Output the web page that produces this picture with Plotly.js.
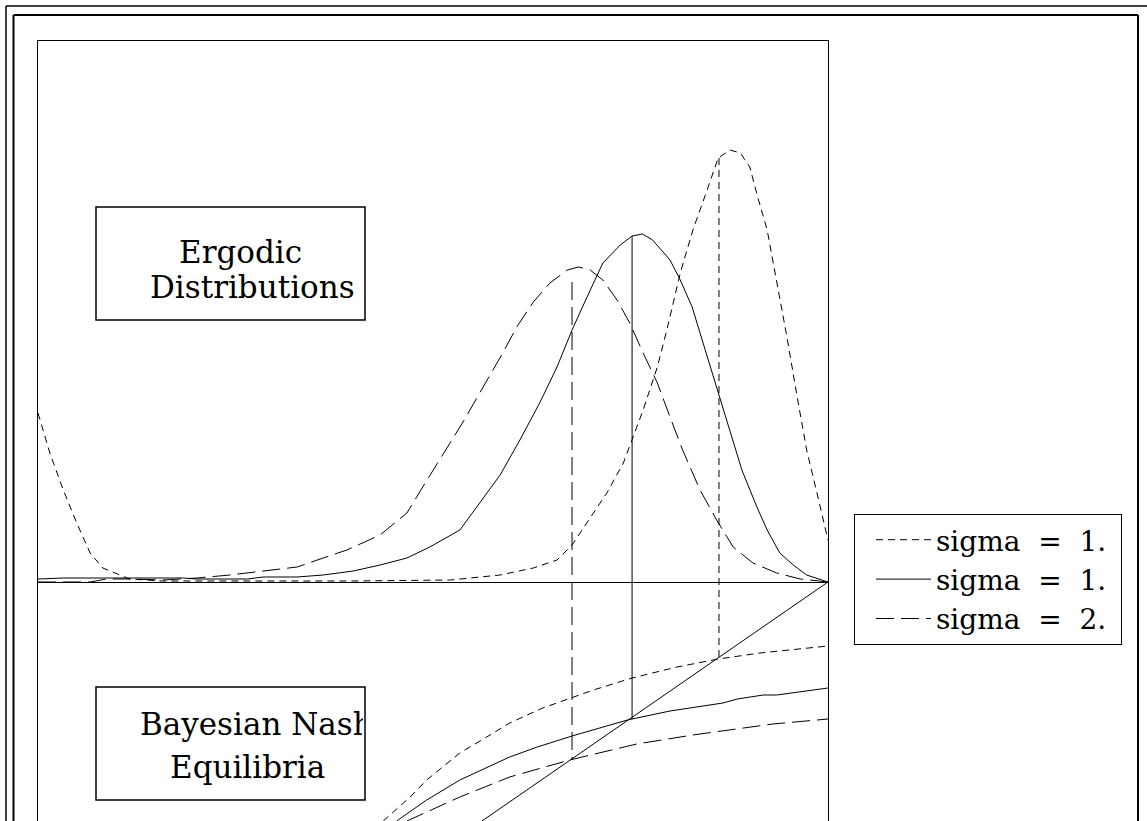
<!DOCTYPE html>
<html>
<head>
<meta charset="utf-8">
<script src="https://cdn.plot.ly/plotly-3.0.1.min.js"></script>
<style>html,body{margin:0;padding:0;background:#fff;}</style>
</head>
<body>
<div id="chart" style="width:1147px;height:821px;"></div>
<script>
// ---- Data ----
const legendNames = ["sigma  =  1.\u00A0", "sigma  =  1.\u00A0", "sigma  =  2.\u00A0"];

// Ergodic distributions (upper part)
const xErgShort = [0,0.015,0.032,0.049,0.066,0.082,0.116,0.158,0.268,0.395,0.522,0.585,0.627,0.657,0.676,0.695,0.720,0.741,0.752,0.766,0.784,0.796,0.813,0.829,0.847,0.861,0.876,0.889,0.901,0.911,0.923,0.935,0.948,0.961,0.973,0.986,1];
const yErgShort = [1.69,1.29,0.92,0.59,0.29,0.14,0.03,0.01,0.01,0.01,0.02,0.07,0.14,0.22,0.37,0.59,0.89,1.19,1.42,1.72,2.15,2.52,3.09,3.52,3.92,4.24,4.32,4.29,4.15,3.85,3.52,3.02,2.45,1.85,1.32,0.89,0.42];

const xErgSolid = [0,0.032,0.184,0.201,0.265,0.285,0.328,0.361,0.399,0.433,0.467,0.496,0.534,0.585,0.610,0.635,0.657,0.676,0.695,0.715,0.737,0.752,0.765,0.778,0.800,0.813,0.828,0.842,0.863,0.876,0.891,0.910,0.923,0.939,0.956,0.973,1];
const yErgSolid = [0.03,0.04,0.04,0.03,0.03,0.05,0.05,0.07,0.11,0.17,0.24,0.35,0.52,1.07,1.42,1.79,2.15,2.52,2.85,3.19,3.37,3.46,3.48,3.42,3.22,3.02,2.75,2.39,1.85,1.52,1.12,0.75,0.52,0.29,0.17,0.07,0];

const xErgLong = [0,0.066,0.087,0.116,0.158,0.201,0.243,0.285,0.328,0.361,0.391,0.433,0.467,0.487,0.538,0.589,0.606,0.627,0.648,0.670,0.684,0.699,0.715,0.733,0.749,0.766,0.784,0.800,0.816,0.838,0.859,0.880,0.905,0.935,0.965,1];
const yErgLong = [0,0,0.03,0.03,0.02,0.04,0.07,0.11,0.15,0.24,0.32,0.47,0.69,0.95,1.60,2.30,2.55,2.80,2.99,3.12,3.15,3.12,3.02,2.82,2.59,2.29,1.99,1.65,1.32,0.92,0.62,0.35,0.19,0.09,0.03,0];

// Bayesian Nash equilibria (lower part)
const xBneShort = [0.437,0.471,0.492,0.534,0.568,0.597,0.639,0.676,0.703,0.752,0.809,0.861,0.914,1];
const yBneShort = [-2.39,-2.15,-1.98,-1.71,-1.55,-1.41,-1.26,-1.16,-1.08,-0.96,-0.85,-0.77,-0.71,-0.64];

const xBneSolid = [0.454,0.492,0.534,0.597,0.632,0.676,0.746,0.800,0.867,0.885,0.918,0.935,1];
const yBneSolid = [-2.39,-2.18,-1.98,-1.75,-1.65,-1.54,-1.38,-1.29,-1.21,-1.17,-1.13,-1.13,-1.06];

const xBneLong = [0.467,0.534,0.597,0.673,0.758,0.829,0.930,1];
const yBneLong = [-2.39,-2.15,-1.95,-1.78,-1.62,-1.53,-1.42,-1.37];

// 45-degree reference line
const xDiag = [0.562, 1];
const yDiag = [-2.39, 0];

// Vertical drop lines (short, solid, long)
const dropX = [0.862, 0.752, 0.676];
const dropTop = [4.24, 3.46, 3.00];
const dropBottom = [-0.77, -1.37, -1.78];

const dashes = ["7px,5px", "solid", "18px,7px"];

// ---- Helpers for layout placement (pixel -> paper) ----
const PL = 38, PR = 828, PT = 41, PB = 821;
const px = v => (v - PL) / (PR - PL);
const py = v => (PB - v) / (PB - PT);

const lineStyle = d => ({color: "black", width: 1, dash: d});
const traces = [];
const ergX = [xErgShort, xErgSolid, xErgLong];
const ergY = [yErgShort, yErgSolid, yErgLong];
const bneX = [xBneShort, xBneSolid, xBneLong];
const bneY = [yBneShort, yBneSolid, yBneLong];
for (let i = 0; i < 3; i++) {
  traces.push({x: ergX[i], y: ergY[i], type: "scatter", mode: "lines", name: legendNames[i],
    legendgroup: "g" + i, line: lineStyle(dashes[i]), hoverinfo: "skip"});
}
for (let i = 0; i < 3; i++) {
  traces.push({x: bneX[i], y: bneY[i], type: "scatter", mode: "lines", showlegend: false,
    legendgroup: "g" + i, line: lineStyle(dashes[i]), hoverinfo: "skip"});
  traces.push({x: [dropX[i], dropX[i]], y: [dropTop[i], dropBottom[i]], type: "scatter", mode: "lines",
    showlegend: false, legendgroup: "g" + i, line: lineStyle(dashes[i]), hoverinfo: "skip"});
}
traces.push({x: xDiag, y: yDiag, type: "scatter", mode: "lines", showlegend: false,
  line: lineStyle("solid"), hoverinfo: "skip"});

const serif = "DejaVu Serif, Liberation Serif, serif";
const boxLine = {color: "black", width: 1.5};
const shapes = [
  // outer double frame
  {type: "line", xref: "paper", yref: "paper", x0: px(6), x1: px(6), y0: py(6), y1: -0.05, line: {color: "black", width: 1.5}},
  {type: "line", xref: "paper", yref: "paper", x0: px(6), x1: px(1160), y0: py(6), y1: py(6), line: {color: "black", width: 1.5}},
  {type: "line", xref: "paper", yref: "paper", x0: px(13.5), x1: px(13.5), y0: py(15), y1: -0.05, line: {color: "black", width: 2}},
  {type: "line", xref: "paper", yref: "paper", x0: px(13.5), x1: px(1138), y0: py(15), y1: py(15), line: {color: "black", width: 2}},
  {type: "line", xref: "paper", yref: "paper", x0: px(1138), x1: px(1138), y0: py(15), y1: -0.05, line: {color: "black", width: 2}},
  // label boxes
  {type: "rect", xref: "paper", yref: "paper", x0: px(96), x1: px(365), y0: py(320), y1: py(207), line: boxLine, fillcolor: "rgba(0,0,0,0)"},
  {type: "rect", xref: "paper", yref: "paper", x0: px(96), x1: px(365), y0: py(800), y1: py(687), line: boxLine, fillcolor: "rgba(0,0,0,0)"}
];

const tf = {family: serif, size: 31, color: "black"};
const annotations = [
  {xref: "paper", yref: "paper", x: px(241), y: py(252), text: "Ergodic", showarrow: false, xanchor: "center", yanchor: "middle", font: tf},
  {xref: "paper", yref: "paper", x: px(150), y: py(287), text: "Distributions", showarrow: false, xanchor: "left", yanchor: "middle", font: tf, width: 213, align: "left", borderpad: 0, borderwidth: 0},
  {xref: "paper", yref: "paper", x: px(140), y: py(724), text: "Bayesian Nash", showarrow: false, xanchor: "left", yanchor: "middle", font: tf, width: 223, align: "left", borderpad: 0, borderwidth: 0},
  {xref: "paper", yref: "paper", x: px(248), y: py(767), text: "Equilibria", showarrow: false, xanchor: "center", yanchor: "middle", font: tf}
];

const layout = {
  width: 1147, height: 821,
  margin: {l: PL, r: 1147 - PR, t: PT, b: 0, pad: 0},
  paper_bgcolor: "white", plot_bgcolor: "white",
  showlegend: true,
  xaxis: {range: [0, 1], showgrid: false, zeroline: false, showticklabels: false, ticks: "",
    showline: true, side: "top", linecolor: "black", linewidth: 1, fixedrange: true},
  yaxis: {range: [-2.39, 5.41], showgrid: false, zeroline: true, zerolinecolor: "black", zerolinewidth: 1,
    showticklabels: false, ticks: "", showline: true, mirror: true, linecolor: "black", linewidth: 1, fixedrange: true},
  legend: {x: px(854), y: py(514), xanchor: "left", yanchor: "top", bordercolor: "black", borderwidth: 1,
    bgcolor: "white", font: {family: serif, size: 28, color: "black"}, itemwidth: 55, indentation: 16, tracegroupgap: 0},
  shapes: shapes,
  annotations: annotations
};

Plotly.newPlot("chart", traces, layout, {displayModeBar: false, staticPlot: true});
</script>
</body>
</html>
